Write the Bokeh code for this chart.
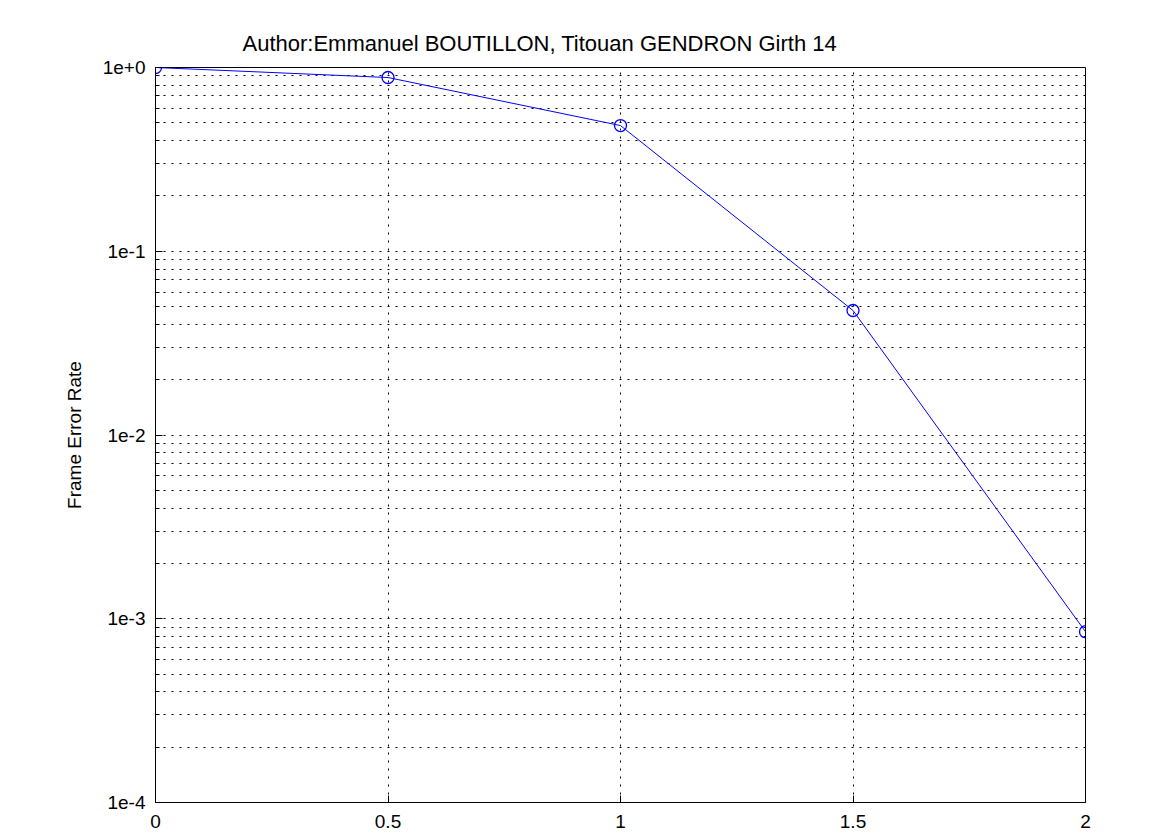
from bokeh.plotting import figure
from bokeh.models import FixedTicker, Range1d
from bokeh.embed import file_html
from bokeh.resources import INLINE

# Data
snr = [0.0, 0.5, 1.0, 1.5, 2.0]
fer = [1.0, 0.882, 0.483, 0.0476, 0.00085]

x_ticks = [0, 0.5, 1, 1.5, 2]
x_tick_labels = ["0", "0.5", "1", "1.5", "2"]
y_ticks = [1e-4, 1e-3, 1e-2, 1e-1, 1e0]
y_tick_labels = ["1e-4", "1e-3", "1e-2", "1e-1", "1e+0"]
y_minor = [m * 10.0 ** e for e in range(-4, 0) for m in range(2, 10)]

FONT = "Liberation Sans"
TICK_SIZE = "19px"

p = figure(
    width=1175, height=835,
    y_axis_type="log",
    x_range=Range1d(0, 2), y_range=Range1d(1e-4, 1),
    output_backend="svg", toolbar_location=None,
    min_border_left=155, min_border_right=90,
    min_border_top=67, min_border_bottom=33,
)
p.background_fill_color = "white"
p.border_fill_color = "white"
p.outline_line_color = "black"
p.outline_line_width = 1

p.title.text = "Author:Emmanuel BOUTILLON, Titouan GENDRON Girth 14"
p.title.text_font = FONT
p.title.text_font_size = "22px"
p.title.text_font_style = "normal"
p.title.text_color = "black"
p.title.align = "left"
p.title.offset = 87
p.title.standoff = 24

p.xaxis.ticker = FixedTicker(ticks=x_ticks)
p.xaxis.major_label_overrides = {t: l for t, l in zip(x_ticks, x_tick_labels)}
p.yaxis.ticker = FixedTicker(ticks=y_ticks, minor_ticks=y_minor)
p.yaxis.major_label_overrides = {t: l for t, l in zip(y_ticks, y_tick_labels)}

for ax in [p.xaxis[0], p.yaxis[0]]:
    ax.major_label_text_font = FONT
    ax.major_label_text_font_size = TICK_SIZE
    ax.major_label_text_color = "black"
    ax.major_tick_in = 7
    ax.major_tick_out = 0
    ax.minor_tick_in = 4
    ax.minor_tick_out = 0
    ax.axis_line_color = "black"
    ax.major_tick_line_color = "black"
    ax.minor_tick_line_color = "black"
p.xaxis.minor_tick_line_color = None
p.xaxis.major_label_standoff = 12
p.yaxis.major_label_standoff = 10

p.yaxis.axis_label = "Frame Error Rate"
p.yaxis.axis_label_text_font = FONT
p.yaxis.axis_label_text_font_size = "19px"
p.yaxis.axis_label_text_font_style = "normal"
p.yaxis.axis_label_text_color = "black"
p.yaxis.axis_label_standoff = 15

for g in [p.xgrid[0], p.ygrid[0]]:
    g.grid_line_color = "black"
    g.grid_line_dash = "2 6"
    g.grid_line_width = 1
p.ygrid.minor_grid_line_color = "black"
p.ygrid.minor_grid_line_dash = "2 6"

p.line(snr, fer, line_color="#0000ff", line_width=1)
p.scatter(snr, fer, marker="circle", size=12, fill_color=None,
          line_color="#0000ff", line_width=1.3)

html = file_html(p, INLINE)
html = html.replace("<head>", "<head><style>html,body{overflow:hidden;}</style>", 1)
open("out.html", "w").write(html)
